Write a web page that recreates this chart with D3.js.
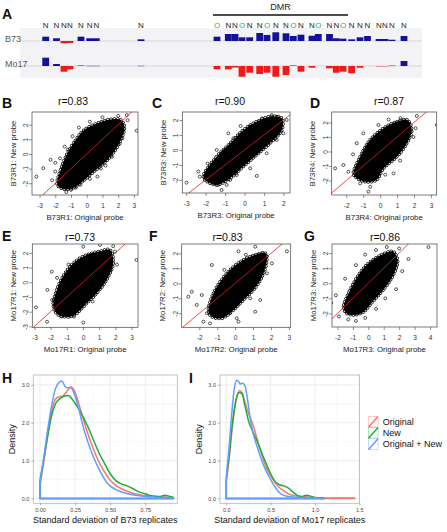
<!DOCTYPE html>
<html><head><meta charset="utf-8">
<script src="https://cdn.jsdelivr.net/npm/d3@7"></script>
<style>
body{margin:0;background:#fff;}
svg{display:block;font-family:"Liberation Sans",Arial,Helvetica,sans-serif;}
</style>
</head><body>
<svg id="fig" width="447" height="532"></svg>
<script>
// ================= DATA =================
// Panel A: probe track (positions in track units, signal in log-ratio units)
const probeLabels = ["N","N","N","N","N","N","N","N",
  "O","N","N","O","N","N","O","N","N","O","N","N","O","N","N","O","N","N","N","N","N","N","N"];
const probePos = [25.7,36.5,44,50,61,69.7,76.3,121,
  197,208.3,215,222,229.7,239.7,247,255.8,266,273.3,281,292,298.3,309.5,316.3,323,331.7,340,347.5,359,365,372,384];
const b73Signal = [1.08,0.68,-0.58,-0.5,1.08,0.68,0.68,0.42,
  1.08,1.75,1.75,0.92,0.92,2.0,1.5,2.18,1.92,1.25,1.58,1.32,1.75,1.75,0.68,0.58,0.42,0.92,1.25,0.5,0.5,0.32,1.25];
const mo17Signal = [2.08,0.5,-1.42,-0.82,0.25,0.1,0.1,0.1,
  -0.82,-0.82,-0.38,-2.68,-1.68,-2.0,-1.68,-2.68,-2.25,0.25,-1.42,-0.42,0,-0.58,-1.68,-1.42,-1.82,-0.42,0,-0.18,-0.18,0.18,1.25];
const dmrRange = [193, 328];

// Panels B-G: scatter (dense core outline + individual outlying points)
const scatterTitles = ["r=0.83","r=0.90","r=0.87","r=0.73","r=0.83","r=0.86"];
const scatterLetters = ["B","C","D","E","F","G"];
const scatterXLabels = ["B73R1: Original probe","B73R3: Original probe","B73R4: Original probe",
  "Mo17R1: Original probe","Mo17R2: Original probe","Mo17R3: Original probe"];
const scatterYLabels = ["B73R1: New probe","B73R3: New probe","B73R4: New probe",
  "Mo17R1: New probe","Mo17R2: New probe","Mo17R3: New probe"];
const scatterXTicks = [[-3,-2,-1,0,1,2,3],[-3,-2,-1,0,1,2],[-2,-1,0,1,2,3],
  [-3,-2,-1,0,1,2,3],[-2,-1,0,1,2,3],[-2,-1,0,1,2,3,4]];
const scatterYTicks = [[-2,-1,0,1,2],[-2,-1,0,1,2],[-2,-1,0,1,2],
  [-3,-2,-1,0,1,2],[-2,-1,0,1,2],[-2,-1,0,1,2]];
const scatterXDomains = [[-3.48,3.26],[-3.2,2.34],[-2.86,3.34],[-3.13,3.4],[-2.98,3.1],[-2.35,4.45]];
const scatterYDomains = [[-2.8,2.86],[-2.87,2.53],[-3.0,2.72],[-3.06,2.6],[-2.93,2.62],[-2.9,2.6]];

const coreB = [[-1.87,-2.11],[-1.66,-1.09],[-1.23,0.04],[-0.70,0.95],[-0.17,1.63],[0.68,2.09],[1.5,2.35],[2.17,2.31],[2.4,1.8],[1.95,0.5],[1.32,-0.41],[0.46,-1.2],[-0.27,-1.88],[-0.9,-2.34],[-1.44,-2.4]];
const coreC = [[-2.12,-1.78],[-1.43,-0.44],[-0.74,0.44],[-0.06,1.33],[0.63,1.89],[1.31,2.22],[1.92,2.11],[1.92,1.33],[1.31,0.44],[0.63,-0.33],[-0.06,-1.11],[-0.74,-1.89],[-1.43,-2.33],[-1.94,-2.1]];
const coreD = [[-1.58,-1.5],[-1.18,-0.36],[-0.59,0.8],[0.2,1.6],[0.99,2.06],[1.58,2.18],[1.87,1.48],[1.58,0.57],[0.99,-0.36],[0.2,-1.16],[-0.22,-1.97],[-0.9,-2.08],[-1.48,-1.74]];
const coreE = [[-1.83,-1.66],[-1.62,-0.52],[-1.11,0.61],[-0.49,1.4],[0.23,1.86],[1.05,2.1],[1.67,2.2],[1.87,1.29],[1.46,0.16],[0.85,-0.75],[0.23,-1.43],[-0.39,-2.11],[-0.8,-2.34],[-1.52,-2.22]];
const coreF = [[-1.49,-1.89],[-1.21,-0.67],[-0.65,0.4],[-0.09,1.1],[0.46,1.56],[1.12,1.9],[1.68,2.02],[1.77,1.56],[1.49,0.4],[1.02,-0.45],[0.46,-1.11],[-0.09,-1.78],[-0.74,-2.33],[-1.3,-2.22]];
const coreG = [[-1.6,-1.6],[-1.2,-0.5],[-0.6,0.6],[0.1,1.4],[0.9,1.9],[1.6,2.1],[1.9,1.5],[1.6,0.5],[1.0,-0.4],[0.3,-1.2],[-0.3,-1.9],[-0.9,-2.1],[-1.4,-2.0]];

const outB = [[-3.2,-1.55],[-2.76,-0.97],[3.18,1.59],[2.55,2.65],[-2.3,-0.4],[-2.0,-0.6],[-1.66,-2.2],[-1.0,-2.45],[-0.4,-2.1],[0.68,-1.54],[2.27,1.07],[2.6,2.3],[-1.7,-0.3],[-1.4,0.5],[-0.9,1.2],[-0.5,1.8],[0.2,2.2],[1.0,2.5],[2.0,2.6],[2.3,1.6],[2.1,0.7],[1.6,-0.2],[1.2,-0.8],[0.2,-1.7],[-0.7,-2.3],[-1.3,-2.6],[-2.2,-1.8],[-2.0,-1.2],[-1.2,0.3],[0.9,-1.0]];
const outC = [[-2.98,-2.18],[-2.38,-1.44],[-2.3,-1.78],[-1.78,-1.33],[-1.35,-2.33],[-1.18,-2.67],[-0.92,-2.33],[-0.74,-2.0],[-0.83,1.11],[0.63,-1.73],[1.4,2.33],[1.66,2.22],[2.17,2.0],[2.0,1.11],[0.29,-1.22],[-1.43,0.0],[-0.57,0.78],[0.29,1.56],[-0.4,-1.67],[1.14,-0.22],[1.66,0.67],[-1.9,-0.9],[0.9,2.1],[-0.2,1.6]];
const outD = [[-2.66,-1.16],[-0.69,-2.77],[-0.1,1.83],[2.17,2.45],[3.35,1.83],[-2.17,-0.93],[-1.87,-1.4],[-1.38,0.57],[1.18,-0.63],[0.79,-1.51],[-1.18,-2.2],[-0.59,-2.43],[1.67,1.94],[1.97,1.0],[-0.99,1.25],[0.5,2.2],[1.2,2.3],[-1.6,-0.2],[0.3,-1.6],[2.1,1.6]];
const outE = [[-2.9,-1.7],[-1.93,0.72],[-2.2,-0.52],[0.33,1.79],[3.31,1.52],[1.98,2.08],[-2.22,-2.68],[0.02,-2.74],[-0.55,-2.33],[-1.33,-2.33],[-1.21,-1.43],[1.05,-0.3],[1.67,0.84],[1.05,2.54],[1.46,2.76],[1.87,2.45],[0.02,2.42],[-1.6,0.3],[-0.9,1.2],[2.1,1.2],[0.6,-1.3],[-1.9,-1.2]];
const outF = [[-2.61,-0.89],[-2.42,-0.56],[-1.86,-0.78],[-1.3,1.22],[0.19,2.13],[1.12,2.44],[2.89,2.13],[0.84,-1.0],[1.12,-1.89],[0.09,-2.33],[0.19,-2.56],[-1.77,-2.56],[-1.58,-2.0],[-1.4,-2.67],[1.77,0.67],[2.05,1.33],[1.77,1.78],[-2.14,-1.44],[1.4,-1.11],[-0.6,0.9],[0.6,1.9],[-0.3,-2.0]];
const outG = [[-2.4,-1.3],[-2.1,-0.8],[-1.9,-2.2],[-1.5,0.3],[-0.8,1.2],[-0.2,1.9],[0.5,2.2],[1.2,2.4],[2.0,2.3],[2.6,1.6],[3.9,2.4],[2.2,0.8],[1.8,-0.4],[1.1,-1.0],[0.5,-1.7],[-0.2,-2.3],[-0.8,-2.5],[-1.3,-2.4]];

// Panels H, I: density of replicate SD
const seriesNames = ["Original","New","Original + New"];
const hOrigX = [0,0.02,0.05,0.08,0.11,0.13,0.16,0.19,0.22,0.25,0.28,0.32,0.36,0.40,0.45,0.50,0.55,0.60,0.65,0.70,0.78,0.86,0.95];
const hOrigY = [0.35,0.8,1.55,2.25,2.62,2.68,2.7,2.82,2.95,2.8,2.45,1.95,1.5,1.12,0.75,0.48,0.32,0.22,0.15,0.1,0.06,0.04,0.02];
const hNewX = [0,0.02,0.05,0.08,0.11,0.14,0.17,0.2,0.23,0.26,0.3,0.34,0.38,0.42,0.46,0.5,0.54,0.58,0.62,0.66,0.7,0.75,0.8,0.85,0.89,0.92,0.95];
const hNewY = [0.5,0.9,1.55,2.15,2.5,2.63,2.7,2.72,2.62,2.45,2.2,1.9,1.55,1.2,0.92,0.65,0.47,0.38,0.33,0.26,0.18,0.12,0.06,0.05,0.08,0.06,0.03];
const hBothX = [0,0.02,0.05,0.08,0.11,0.14,0.155,0.18,0.2,0.22,0.24,0.27,0.3,0.34,0.38,0.43,0.48,0.53,0.58,0.65,0.72,0.8,0.88,0.95];
const hBothY = [0.4,0.9,1.7,2.4,2.9,3.08,3.1,2.95,2.92,2.92,2.8,2.45,2.0,1.5,1.1,0.7,0.4,0.25,0.17,0.1,0.06,0.04,0.02,0.01];
const iOrigX = [0,0.03,0.06,0.09,0.12,0.15,0.18,0.21,0.25,0.3,0.35,0.4,0.45,0.5,0.55,0.6,0.65,0.7,0.8,0.9,1.0,1.1,1.25,1.45];
const iOrigY = [0.45,1.0,1.7,2.3,2.7,2.85,2.78,2.55,2.25,1.95,1.55,1.15,0.82,0.6,0.42,0.28,0.2,0.12,0.06,0.04,0.02,0.01,0.01,0.01];
const iNewX = [0,0.03,0.06,0.09,0.12,0.15,0.18,0.21,0.25,0.3,0.35,0.4,0.45,0.5,0.55,0.6,0.65,0.7,0.75,0.8,0.85,0.9,0.95,1.0,1.1];
const iNewY = [0.5,1.1,1.8,2.35,2.7,2.8,2.75,2.45,2.05,1.75,1.5,1.2,0.92,0.65,0.45,0.36,0.33,0.27,0.17,0.08,0.05,0.08,0.06,0.02,0.01];
const iBothX = [0,0.03,0.06,0.09,0.12,0.14,0.16,0.18,0.21,0.24,0.27,0.3,0.35,0.4,0.45,0.5,0.55,0.6,0.65,0.7,0.8,0.9,1.0,1.1];
const iBothY = [0.55,1.3,2.2,2.9,3.12,3.08,3.02,3.05,2.98,2.6,2.1,1.75,1.35,1.0,0.72,0.5,0.3,0.15,0.08,0.05,0.03,0.02,0.01,0.0];
const hXTicks = [0,0.25,0.5,0.75];
const iXTicks = [0,0.5,1.0,1.5];
const densYTicks = [0,1,2,3];

// ================= DRAWING =================
const svg = d3.select("#fig");
const BLUE = "#12129c", RED = "#f01818", GREEN_O = "#2fae72";
const COLS = ["#F8766D", "#1BAF3A", "#619CFF"];

function letter(t, x, y) {
  svg.append("text").attr("x", x).attr("y", y).attr("font-size", 14).attr("font-weight", "bold")
    .attr("fill", "#111").text(t);
}

// ---- Panel A
letter("A", 2, 19);
const ax = d3.scaleLinear().domain([0, 402]).range([20, 422]);
const ay = d3.scaleLinear().domain([-3, 3]).range([12, -12]);
const gA = svg.append("g");
gA.append("rect").attr("x", ax(0)).attr("y", 28).attr("width", ax(402) - ax(0)).attr("height", 50).attr("fill", "#f3f3f5");
gA.append("text").attr("x", (ax(dmrRange[0]) + ax(dmrRange[1])) / 2).attr("y", 10).attr("text-anchor", "middle")
  .attr("font-size", 9).attr("fill", "#222").text("DMR");
gA.append("line").attr("x1", ax(dmrRange[0])).attr("x2", ax(dmrRange[1])).attr("y1", 15).attr("y2", 15)
  .attr("stroke", "#111").attr("stroke-width", 1.4);
gA.selectAll("text.pl").data(probeLabels).join("text").attr("class", "pl")
  .attr("x", (d, i) => ax(probePos[i])).attr("y", 28).attr("text-anchor", "middle").attr("font-size", 8)
  .attr("fill", d => d === "O" ? GREEN_O : "#222").text(d => d);
const tracks = [{name: "B73", base: 41, vals: b73Signal}, {name: "Mo17", base: 66, vals: mo17Signal}];
const bw = 6.8;
tracks.forEach(t => {
  gA.append("line").attr("x1", ax(0)).attr("x2", ax(402)).attr("y1", t.base).attr("y2", t.base)
    .attr("stroke", "#cfcfd4").attr("stroke-width", 0.8);
  gA.append("text").attr("x", 5).attr("y", t.base + 1).attr("font-size", 9).attr("fill", "#555").text(t.name);
  gA.selectAll(null).data(t.vals.map((v, i) => ({v, p: probePos[i]})).filter(d => d.v !== 0)).join("rect")
    .attr("x", d => ax(d.p - bw / 2)).attr("width", d => ax(d.p + bw / 2) - ax(d.p - bw / 2))
    .attr("y", d => t.base + Math.min(ay(d.v), ay(0)))
    .attr("height", d => Math.max(0.8, Math.abs(ay(d.v) - ay(0))))
    .attr("fill", d => d.v > 0 ? BLUE : RED)
    .attr("opacity", d => Math.abs(d.v) < 0.3 ? 0.45 : 1);
});

// ---- Scatter panels
const cores = [coreB, coreC, coreD, coreE, coreF, coreG];
const outs = [outB, outC, outD, outE, outF, outG];
const boxes = [[32, 112, 138, 195], [182.3, 112, 290, 193], [331.7, 112, 436.7, 195],
  [32.3, 244, 138, 327.3], [181.7, 244, 290.7, 327.3], [332, 244, 437, 327]];
const titleX = [73, 230, 389, 80, 227.5, 385];
const letterX = [2, 152, 310, 2, 149, 304];

boxes.forEach((b, k) => {
  const row = k < 3 ? 0 : 1;
  const g = svg.append("g");
  const x = d3.scaleLinear().domain(scatterXDomains[k]).range([b[0], b[2]]);
  const y = d3.scaleLinear().domain(scatterYDomains[k]).range([b[3], b[1]]);
  const cid = "clip" + k;
  g.append("clipPath").attr("id", cid).append("rect").attr("x", b[0]).attr("y", b[1])
    .attr("width", b[2] - b[0]).attr("height", b[3] - b[1]);
  const inner = g.append("g").attr("clip-path", `url(#${cid})`);
  const pts = cores[k].map(p => [x(p[0]), y(p[1])]);
  const dCore = d3.line().curve(d3.curveCatmullRomClosed.alpha(0.5))(pts);
  // ring of open symbols along the edge of the dense cloud
  inner.append("path").attr("d", dCore).attr("fill", "none").attr("stroke", "#000")
    .attr("stroke-width", 3.6).attr("stroke-linecap", "round").attr("stroke-dasharray", "0 3.3");
  inner.append("path").attr("d", dCore).attr("fill", "none").attr("stroke", "#fff")
    .attr("stroke-width", 2.1).attr("stroke-linecap", "round").attr("stroke-dasharray", "0 3.3");
  inner.append("path").attr("d", dCore).attr("fill", "#000");
  inner.selectAll("circle.o").data(outs[k]).join("circle").attr("class", "o")
    .attr("cx", d => x(d[0])).attr("cy", d => y(d[1])).attr("r", 1.5)
    .attr("fill", "none").attr("stroke", "#000").attr("stroke-width", 0.65);
  inner.append("line").attr("x1", x(-6)).attr("y1", y(-6)).attr("x2", x(6)).attr("y2", y(6))
    .attr("stroke", "#e0202a").attr("stroke-width", 0.8);
  g.append("rect").attr("x", b[0]).attr("y", b[1]).attr("width", b[2] - b[0]).attr("height", b[3] - b[1])
    .attr("fill", "none").attr("stroke", "#444").attr("stroke-width", 0.7);
  const xa = g.append("g").attr("transform", `translate(0,${b[3]})`)
    .call(d3.axisBottom(x).tickValues(scatterXTicks[k]).tickSize(3).tickPadding(5.5).tickFormat(d => String(d)));
  const ya = g.append("g").attr("transform", `translate(${b[0]},0)`)
    .call(d3.axisLeft(y).tickValues(scatterYTicks[k]).tickSize(3).tickFormat(d => String(d)));
  [xa, ya].forEach(a => {
    a.select(".domain").remove();
    a.selectAll(".tick line").attr("stroke", "#444").attr("stroke-width", 0.6);
    a.selectAll(".tick text").attr("font-size", 6.5).attr("fill", "#333").attr("font-family", null);
  });
  ya.selectAll(".tick text").attr("x", 0).attr("dy", 0).attr("text-anchor", "middle")
    .attr("transform", "translate(-4.2,0) rotate(-90)");
  g.append("text").attr("x", (b[0] + b[2]) / 2).attr("y", b[3] + 24.5).attr("text-anchor", "middle")
    .attr("font-size", 7.8).attr("fill", "#222").text(scatterXLabels[k]);
  g.append("text").attr("transform", `translate(${b[0] - 16.5},${(b[1] + b[3]) / 2}) rotate(-90)`)
    .attr("text-anchor", "middle").attr("font-size", 7.8).attr("fill", "#222").text(scatterYLabels[k]);
  g.append("text").attr("x", titleX[k]).attr("y", row === 0 ? 105 : 240.5).attr("text-anchor", "middle")
    .attr("font-size", 10.5).attr("fill", "#111").text(scatterTitles[k]);
  letter(scatterLetters[k], letterX[k], row === 0 ? 108 : 241);
});

// ---- Density panels
const densPanels = [
  {letter: "H", lx: 2, box: [33.3, 375, 177.3, 503.3], xdom: [-0.048, 0.978], ticks: hXTicks,
   fmt: d3.format(".2f"), minor: [0.125, 0.375, 0.625, 0.875],
   series: [[hOrigX, hOrigY], [hNewX, hNewY], [hBothX, hBothY]],
   xlab: "Standard deviation of B73 replicates"},
  {letter: "I", lx: 189, box: [220, 375, 359.5, 503.3], xdom: [-0.071, 1.502], ticks: iXTicks,
   fmt: d3.format(".1f"), minor: [0.25, 0.75, 1.25],
   series: [[iOrigX, iOrigY], [iNewX, iNewY], [iBothX, iBothY]],
   xlab: "Standard deviation of Mo17 replicates"}
];
densPanels.forEach(P => {
  const b = P.box;
  const g = svg.append("g");
  const x = d3.scaleLinear().domain(P.xdom).range([b[0], b[2]]);
  const y = d3.scaleLinear().domain([-0.13, 3.26]).range([b[3], b[1]]);
  g.append("rect").attr("x", b[0]).attr("y", b[1]).attr("width", b[2] - b[0]).attr("height", b[3] - b[1]).attr("fill", "#fff");
  g.selectAll("line.mnx").data(P.minor).join("line").attr("x1", d => x(d)).attr("x2", d => x(d))
    .attr("y1", b[1]).attr("y2", b[3]).attr("stroke", "#f4f4f4").attr("stroke-width", 0.6);
  g.selectAll("line.mny").data([0.5, 1.5, 2.5]).join("line").attr("y1", d => y(d)).attr("y2", d => y(d))
    .attr("x1", b[0]).attr("x2", b[2]).attr("stroke", "#f4f4f4").attr("stroke-width", 0.6);
  g.selectAll("line.mjx").data(P.ticks).join("line").attr("x1", d => x(d)).attr("x2", d => x(d))
    .attr("y1", b[1]).attr("y2", b[3]).attr("stroke", "#e8e8e8").attr("stroke-width", 0.8);
  g.selectAll("line.mjy").data(densYTicks).join("line").attr("y1", d => y(d)).attr("y2", d => y(d))
    .attr("x1", b[0]).attr("x2", b[2]).attr("stroke", "#e8e8e8").attr("stroke-width", 0.8);
  P.series.forEach((s, si) => {
    const pts = s[0].map((v, i) => [x(v), y(s[1][i])]);
    g.append("path").attr("d", d3.line().curve(d3.curveMonotoneX)(pts))
      .attr("fill", "none").attr("stroke", COLS[si]).attr("stroke-width", 1.5).attr("stroke-linejoin", "round");
    const n = s[0].length - 1;
    g.append("path").attr("d", d3.line()([[x(s[0][n]), y(s[1][n])], [x(s[0][n]), y(0)], [x(s[0][0]), y(0)], [x(s[0][0]), y(s[1][0])]]))
      .attr("fill", "none").attr("stroke", COLS[si]).attr("stroke-width", 1.5);
  });
  g.append("rect").attr("x", b[0]).attr("y", b[1]).attr("width", b[2] - b[0]).attr("height", b[3] - b[1])
    .attr("fill", "none").attr("stroke", "#b5b5b5").attr("stroke-width", 0.8);
  const xa = g.append("g").attr("transform", `translate(0,${b[3]})`)
    .call(d3.axisBottom(x).tickValues(P.ticks).tickSize(2).tickPadding(2.5).tickFormat(P.fmt));
  const ya = g.append("g").attr("transform", `translate(${b[0]},0)`)
    .call(d3.axisLeft(y).tickValues(densYTicks).tickSize(2).tickPadding(2));
  [xa, ya].forEach(a => {
    a.select(".domain").remove();
    a.selectAll(".tick line").attr("stroke", "#777").attr("stroke-width", 0.6);
    a.selectAll(".tick text").attr("font-size", 5.5).attr("fill", "#444").attr("font-family", null);
  });
  g.append("text").attr("x", (b[0] + b[2]) / 2).attr("y", 523).attr("text-anchor", "middle")
    .attr("font-size", 9).attr("fill", "#111").text(P.xlab);
  g.append("text").attr("transform", `translate(${b[0] - 18.5},${(b[1] + b[3]) / 2}) rotate(-90)`)
    .attr("text-anchor", "middle").attr("font-size", 9).attr("fill", "#111").text("Density");
  letter(P.letter, P.lx, 383);
});

// ---- Legend
const lg = svg.append("g");
seriesNames.forEach((nm, i) => {
  const cy = 421.7 + i * 11.2;
  lg.append("rect").attr("x", 368.5).attr("y", cy - 5.3).attr("width", 9.5).attr("height", 10.6)
    .attr("fill", "#fff").attr("stroke", COLS[i]).attr("stroke-opacity", 0.45).attr("stroke-width", 0.8);
  lg.append("line").attr("x1", 368.5).attr("y1", cy + 5.3).attr("x2", 378).attr("y2", cy - 5.3)
    .attr("stroke", COLS[i]).attr("stroke-width", 1.5);
  lg.append("text").attr("x", 382.7).attr("y", cy + 3.2).attr("font-size", 9).attr("fill", "#111").text(nm);
});
</script>
</body></html>
